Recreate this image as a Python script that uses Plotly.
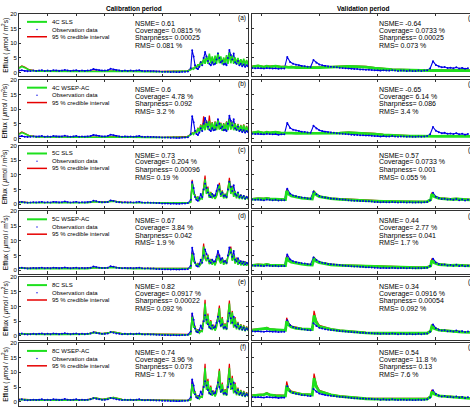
import plotly.graph_objects as go

W, H = 470, 408
FONT = "Liberation Sans, Arial, sans-serif"
GREEN, BLUE, RED = "#1ee01e", "#0000e6", "#e60000"

# ---------------- time axes (sample times) ----------------
t_obs_cal = [round(0.1 * i, 2) for i in range(61)] + [round(6.05 + 0.05 * i, 2) for i in range(40)]
t_mod_cal = [0.0, 0.1, 0.2, 0.35, 0.6, 1.0, 1.5, 2.0, 2.4, 2.65, 2.9, 3.3, 3.6, 4.0, 4.5, 5.0, 5.5] + \
            [round(5.8 + 0.05 * i, 2) for i in range(45)]
t_obs_val = [round(0.85 + 0.05 * i, 2) for i in range(75)]
t_mod_val = [0.85, 0.95, 1.05, 1.10, 1.15, 1.25, 1.35, 1.42, 1.44, 1.47, 1.52, 1.60, 1.70, 1.80, 1.88,
             1.91, 1.95, 2.00, 2.10, 2.20, 2.35, 2.50, 2.65, 2.80, 2.95, 3.10, 3.25, 3.40, 3.55, 3.70,
             3.85, 3.91, 3.93, 3.97, 4.05, 4.15, 4.25, 4.35, 4.45, 4.585]

# ---------------- observations ----------------
obs_cal = [0.7, 0.8, 0.6, 0.5, 0.6, 0.7, 0.6, 0.7, 0.8, 0.6,
           0.7, 0.6, 0.8, 0.7, 0.6, 0.7, 0.9, 0.7, 0.6, 0.7,
           0.8, 0.6, 0.7, 0.6, 0.7, 0.8, 1.2, 1.0, 0.8, 0.7,
           0.7, 0.8, 1.3, 1.1, 0.8, 0.7, 0.6, 0.7, 0.6, 0.7,
           0.6, 0.7, 0.8, 0.6, 0.5, 0.6, 0.5, 0.5, 0.4, 0.4,
           0.3, 0.3, 0.3, 0.2, 0.3, 0.2, 0.2, 0.3, 0.3, 0.4,
           1.5,
           7.6, 5.5, 2.5, 1.5, 1.2, 2.0, 3.5, 2.5, 5.0, 7.0,
           5.5, 4.0, 3.0, 2.5, 3.5, 2.8, 3.0, 4.5, 6.5, 5.0,
           3.5, 4.0, 2.8, 3.0, 2.5, 5.0, 7.7, 6.0, 4.5, 6.5,
           3.5, 3.0, 4.0, 2.5, 3.0, 2.2, 2.8, 2.0, 2.5, 2.2]
obs_val = [1.6, 1.5, 1.6, 1.5, 1.4, 1.6, 1.5, 1.4, 1.5, 1.3, 1.4, 1.4,
           5.3, 3.6, 3.0, 2.7, 2.5, 2.3, 2.2, 2.0, 1.9,
           4.3, 3.4, 2.8, 2.5, 2.3, 2.1, 2.0, 1.9, 1.8, 1.7, 1.6, 1.5, 1.4,
           1.3, 1.2, 1.2, 1.1, 1.1, 1.0, 1.0, 0.9, 0.8, 0.8, 0.7, 0.8, 0.7, 0.7, 0.8, 0.7,
           0.6, 0.7, 0.7, 0.6, 0.7, 0.6, 0.6, 0.7, 0.6, 0.7, 0.8,
           1.4, 3.9, 2.6, 2.1, 1.8, 1.9, 1.6, 1.7, 1.5, 1.8, 1.4, 1.6, 1.3, 1.5]

# ---------------- models: calibration mean / 95% upper bound ----------------
cal_mean_4c_sls = [1.5, 2.1, 1.7, 0.9, 0.5, 0.4, 0.4, 0.4, 0.4, 0.5, 0.4, 0.5, 0.4, 0.4, 0.3, 0.3, 0.3,
                   0.4, 0.5, 0.6, 0.8, 1.0,
                   1.5, 1.2, 2.0, 1.6, 2.8, 2.0, 3.8, 2.5, 4.8, 3.0,
                   5.5, 3.0, 6.5, 3.2, 5.5, 2.8, 5.8, 3.0, 6.8, 3.2,
                   5.5, 2.8, 5.2, 2.8, 6.0, 3.0, 6.8, 3.2, 5.8, 3.0,
                   5.2, 2.8, 5.0, 2.6, 4.6, 2.5, 4.8, 2.4, 4.3, 2.5]
cal_ci_4c_sls = [1.7, 2.3, 1.9, 1.0, 0.6, 0.5, 0.5, 0.5, 0.5, 0.6, 0.5, 0.6, 0.5, 0.5, 0.4, 0.4, 0.4,
                 0.5, 0.6, 0.7, 0.9, 1.1,
                 1.4, 1.5, 1.9, 2.0, 2.7, 2.6, 3.6, 3.2, 4.4, 3.8,
                 5.0, 4.2, 5.8, 4.2, 5.0, 4.0, 5.2, 4.0, 6.0, 4.2,
                 5.0, 3.8, 4.8, 3.8, 5.4, 4.0, 6.0, 4.2, 5.2, 4.0,
                 4.8, 3.8, 4.6, 3.6, 4.2, 3.4, 4.4, 3.3, 4.0, 3.3]
cal_mean_4c_wsep = [1.4, 2.0, 1.6, 0.9, 0.5, 0.4, 0.4, 0.4, 0.4, 0.5, 0.4, 0.5, 0.4, 0.4, 0.3, 0.3, 0.3,
                    0.4, 0.5, 0.7, 0.9, 1.2,
                    1.8, 1.4, 2.6, 1.8, 3.5, 2.2, 4.5, 2.6, 5.2, 2.8,
                    5.8, 3.0, 6.0, 3.0, 5.4, 2.6, 5.6, 2.8, 6.2, 3.0,
                    5.2, 2.6, 5.0, 2.6, 5.6, 2.8, 6.4, 3.0, 5.5, 2.8,
                    5.0, 2.6, 4.8, 2.5, 4.4, 2.4, 4.6, 2.3, 4.1, 2.4]
cal_ci_4c_wsep = [1.6, 2.2, 1.8, 1.0, 0.6, 0.5, 0.5, 0.5, 0.5, 0.6, 0.5, 0.6, 0.5, 0.5, 0.4, 0.4, 0.4,
                  0.5, 0.6, 0.8, 1.0, 1.3,
                  1.9, 1.6, 2.7, 2.0, 3.7, 2.4, 4.8, 2.8, 7.5, 3.0,
                  6.2, 3.2, 7.8, 3.2, 5.6, 2.8, 5.8, 3.0, 6.4, 3.2,
                  5.4, 2.8, 5.2, 2.8, 5.8, 3.0, 6.6, 3.2, 5.7, 3.0,
                  5.2, 2.8, 5.0, 2.7, 4.6, 2.6, 4.8, 2.5, 4.3, 2.6]
cal_mean_5c_sls = [0.6, 0.7, 0.6, 0.5, 0.5, 0.5, 0.5, 0.5, 0.5, 0.9, 0.6, 1.0, 0.6, 0.5, 0.5, 0.4, 0.4,
                   0.4, 0.4, 0.4, 0.5, 0.7,
                   7.0, 3.5, 3.0, 1.5, 2.5, 1.4, 2.0, 1.8, 4.5, 8.5,
                   3.5, 5.5, 2.2, 4.0, 2.0, 3.2, 1.8, 2.8, 4.5, 6.5,
                   2.5, 4.5, 2.0, 3.5, 2.0, 5.0, 8.0, 3.5, 6.0, 2.5,
                   4.5, 2.0, 3.8, 1.8, 3.2, 1.7, 3.0, 1.6, 2.6, 1.7]
cal_ci_5c_sls = [0.7, 0.8, 0.7, 0.6, 0.6, 0.6, 0.6, 0.6, 0.6, 1.0, 0.7, 1.1, 0.7, 0.6, 0.6, 0.5, 0.5,
                 0.5, 0.5, 0.5, 0.6, 0.8,
                 8.3, 3.8, 3.2, 1.8, 2.6, 1.6, 2.1, 2.0, 5.5, 9.8,
                 3.8, 6.0, 2.4, 4.2, 2.2, 3.3, 2.0, 2.9, 5.0, 7.3,
                 2.7, 4.7, 2.2, 3.6, 2.2, 5.6, 9.0, 3.7, 6.3, 2.7,
                 4.6, 2.2, 3.9, 2.0, 3.3, 1.9, 3.0, 1.8, 2.6, 1.9]
cal_mean_5c_wsep = [0.6, 0.7, 0.6, 0.5, 0.5, 0.5, 0.5, 0.5, 0.5, 0.8, 0.6, 0.9, 0.6, 0.5, 0.5, 0.4, 0.4,
                    0.4, 0.4, 0.4, 0.5, 0.6,
                    5.5, 3.0, 2.5, 1.4, 2.2, 1.3, 2.0, 3.0, 8.0, 4.0,
                    3.0, 5.0, 2.0, 3.6, 1.8, 3.0, 1.6, 3.0, 5.0, 3.2,
                    2.2, 4.0, 1.8, 3.2, 2.0, 4.5, 5.5, 7.3, 3.2, 5.0,
                    2.2, 4.0, 1.8, 3.4, 1.6, 3.0, 1.5, 2.8, 1.5, 2.4]
cal_ci_5c_wsep = [0.7, 0.8, 0.7, 0.6, 0.6, 0.6, 0.6, 0.6, 0.6, 0.9, 0.7, 1.0, 0.7, 0.6, 0.6, 0.5, 0.5,
                  0.5, 0.5, 0.5, 0.6, 0.7,
                  6.0, 3.2, 2.7, 1.6, 2.3, 1.5, 2.1, 3.3, 9.0, 4.2,
                  3.2, 5.3, 2.2, 3.8, 2.0, 3.1, 1.8, 3.1, 5.5, 3.4,
                  2.4, 4.2, 2.0, 3.4, 2.2, 4.8, 5.9, 8.0, 3.4, 5.2,
                  2.4, 4.2, 2.0, 3.5, 1.8, 3.1, 1.7, 2.9, 1.7, 2.5]
cal_mean_8c_sls = [0.7, 0.8, 0.7, 0.6, 0.5, 0.5, 0.5, 0.5, 0.6, 1.2, 0.7, 1.3, 0.7, 0.6, 0.5, 0.4, 0.4,
                   0.4, 0.4, 0.4, 0.5, 0.6,
                   6.5, 3.0, 3.0, 1.2, 2.0, 1.0, 1.6, 1.5, 5.0, 11.0,
                   4.0, 7.0, 2.5, 5.0, 2.0, 3.5, 1.8, 3.0, 6.0, 9.5,
                   3.0, 6.0, 2.2, 4.0, 2.0, 6.0, 11.0, 4.0, 8.0, 2.8,
                   6.0, 2.2, 4.5, 2.0, 3.8, 1.8, 3.5, 1.6, 3.0, 1.8]
cal_ci_8c_sls = [0.8, 0.9, 0.8, 0.7, 0.6, 0.6, 0.6, 0.6, 0.7, 1.3, 0.8, 1.4, 0.8, 0.7, 0.6, 0.5, 0.5,
                 0.5, 0.5, 0.5, 0.6, 0.7,
                 7.5, 3.3, 3.3, 1.4, 2.2, 1.2, 1.8, 1.8, 6.0, 12.3,
                 4.5, 7.6, 2.8, 5.4, 2.2, 3.8, 2.0, 3.3, 6.8, 10.3,
                 3.3, 6.4, 2.4, 4.3, 2.2, 6.8, 12.0, 4.4, 8.5, 3.0,
                 6.4, 2.4, 4.8, 2.2, 4.0, 2.0, 3.7, 1.8, 3.2, 2.0]
cal_mean_8c_wsep = [0.7, 0.8, 0.7, 0.6, 0.5, 0.5, 0.5, 0.5, 0.6, 1.3, 0.7, 1.4, 0.7, 0.6, 0.5, 0.4, 0.4,
                    0.4, 0.4, 0.4, 0.5, 0.6,
                    6.0, 3.0, 3.2, 1.2, 2.0, 1.0, 1.6, 1.5, 5.0, 11.5,
                    4.0, 7.0, 2.5, 5.0, 2.0, 3.5, 1.8, 3.0, 6.0, 10.5,
                    3.0, 6.0, 2.2, 4.0, 2.0, 6.0, 11.5, 4.0, 8.0, 2.8,
                    6.0, 2.2, 4.5, 2.0, 3.8, 1.8, 3.5, 1.6, 3.0, 1.8]
cal_ci_8c_wsep = [0.8, 0.9, 0.8, 0.7, 0.6, 0.6, 0.6, 0.6, 0.7, 1.4, 0.8, 1.5, 0.8, 0.7, 0.6, 0.5, 0.5,
                  0.5, 0.5, 0.5, 0.6, 0.7,
                  7.5, 3.4, 3.5, 1.4, 2.2, 1.2, 1.8, 1.8, 6.2, 12.9,
                  4.5, 7.8, 2.8, 5.5, 2.2, 3.8, 2.0, 3.3, 7.0, 11.2,
                  3.3, 6.5, 2.4, 4.3, 2.2, 7.0, 12.9, 4.5, 8.8, 3.0,
                  6.5, 2.4, 4.8, 2.2, 4.0, 2.0, 3.7, 1.8, 3.2, 2.0]

# ---------------- models: validation mean / 95% upper bound ----------------
val_mean_4c_sls = [2.0, 2.3, 1.9, 2.2, 2.0, 2.2, 1.9, 2.0, 1.9, 1.8, 1.9, 1.7, 1.8, 1.7, 1.7, 1.6, 1.7, 1.7, 1.8, 1.7,
                   1.9, 2.1, 2.0, 1.9, 1.5, 1.2, 1.0, 0.9, 0.8, 0.8, 0.7, 0.7, 0.7, 0.8, 0.7, 0.8, 0.7, 0.8, 0.7, 0.7]
val_ci_4c_sls = [2.2, 2.5, 2.1, 2.4, 2.2, 2.4, 2.1, 2.2, 2.1, 2.0, 2.1, 1.9, 2.0, 1.9, 1.9, 1.8, 1.9, 1.9, 2.0, 1.9,
                 2.1, 2.3, 2.2, 2.1, 1.7, 1.4, 1.2, 1.1, 1.0, 1.0, 0.9, 0.9, 0.9, 1.0, 0.9, 1.0, 0.9, 1.0, 0.9, 0.9]
val_mean_4c_wsep = [1.9, 2.2, 1.8, 2.1, 1.9, 2.1, 1.8, 1.9, 1.9, 1.8, 1.8, 1.7, 1.7, 1.6, 1.6, 1.6, 1.7, 1.7, 1.7, 1.7,
                    1.8, 2.0, 1.9, 1.8, 1.5, 1.2, 1.0, 0.9, 0.8, 0.8, 0.7, 0.7, 0.8, 0.8, 0.7, 0.8, 0.7, 0.7, 0.7, 0.7]
val_ci_4c_wsep = [2.1, 2.4, 2.0, 2.3, 2.1, 2.3, 2.0, 2.1, 2.1, 2.0, 2.0, 1.9, 1.9, 1.8, 1.8, 1.8, 1.9, 1.9, 1.9, 1.9,
                  2.0, 2.2, 2.1, 2.0, 1.7, 1.4, 1.2, 1.1, 1.0, 1.0, 0.9, 0.9, 1.0, 1.0, 0.9, 1.0, 0.9, 0.9, 0.9, 0.9]
val_mean_5c_sls = [1.7, 1.9, 1.8, 2.0, 1.8, 1.7, 1.6, 1.6, 4.5, 3.5, 2.8, 2.4, 2.1, 1.9, 1.8, 4.0, 3.2, 2.6, 2.2, 1.9,
                   1.7, 1.5, 1.4, 1.3, 1.1, 1.0, 0.9, 0.9, 0.8, 0.8, 0.9, 1.5, 3.5, 2.6, 2.0, 1.8, 1.7, 1.8, 1.6, 1.5]
val_ci_5c_sls = [1.9, 2.1, 2.0, 2.2, 2.0, 1.9, 1.8, 1.8, 5.1, 3.8, 3.0, 2.6, 2.3, 2.1, 2.0, 4.6, 3.5, 2.8, 2.4, 2.1,
                 1.9, 1.7, 1.6, 1.5, 1.3, 1.2, 1.1, 1.1, 1.0, 1.0, 1.1, 1.7, 4.0, 2.8, 2.2, 2.0, 1.9, 2.0, 1.8, 1.7]
val_mean_5c_wsep = [1.6, 1.8, 1.7, 1.9, 1.7, 1.6, 1.5, 1.5, 4.2, 3.3, 2.7, 2.3, 2.0, 1.8, 1.7, 3.8, 3.0, 2.5, 2.1, 1.8,
                    1.6, 1.5, 1.4, 1.3, 1.1, 1.0, 0.9, 0.9, 0.8, 0.8, 0.9, 1.4, 3.3, 2.5, 1.9, 1.7, 1.6, 1.7, 1.5, 1.4]
val_ci_5c_wsep = [1.8, 2.0, 1.9, 2.1, 1.9, 1.8, 1.7, 1.7, 4.9, 3.7, 2.9, 2.5, 2.2, 2.0, 1.9, 4.4, 3.3, 2.7, 2.3, 2.0,
                  1.8, 1.7, 1.6, 1.5, 1.3, 1.2, 1.1, 1.1, 1.0, 1.0, 1.1, 1.6, 3.9, 2.7, 2.1, 1.9, 1.8, 1.9, 1.7, 1.6]
val_mean_8c_sls = [2.0, 2.2, 2.3, 2.6, 2.2, 2.0, 1.9, 1.9, 5.0, 3.8, 3.0, 2.6, 2.4, 2.3, 2.2, 7.0, 4.5, 3.2, 2.6, 2.2,
                   1.8, 1.5, 1.2, 1.0, 0.9, 0.9, 0.8, 0.8, 0.8, 0.8, 0.9, 1.6, 3.2, 2.5, 2.0, 1.8, 1.6, 1.5, 1.3, 1.2]
val_ci_8c_sls = [2.2, 2.4, 2.5, 2.9, 2.4, 2.2, 2.1, 2.1, 6.2, 4.4, 3.3, 2.9, 2.6, 2.5, 2.4, 8.5, 5.2, 3.6, 2.9, 2.4,
                 2.0, 1.7, 1.4, 1.2, 1.1, 1.1, 1.0, 1.0, 1.0, 1.0, 1.1, 1.9, 3.8, 2.8, 2.2, 2.0, 1.8, 1.7, 1.5, 1.4]
val_mean_8c_wsep = [2.1, 2.3, 2.4, 2.8, 2.3, 2.1, 2.0, 2.0, 5.5, 4.0, 3.2, 2.8, 2.5, 2.4, 2.3, 8.0, 5.0, 3.5, 2.8, 2.3,
                    1.8, 1.5, 1.2, 1.0, 0.9, 0.9, 0.8, 0.8, 0.8, 0.8, 0.9, 1.7, 3.4, 2.6, 2.0, 1.8, 1.6, 1.5, 1.3, 1.1]
val_ci_8c_wsep = [2.3, 2.5, 2.6, 3.1, 2.5, 2.3, 2.2, 2.2, 6.9, 4.6, 3.6, 3.1, 2.7, 2.6, 2.5, 9.6, 5.8, 3.9, 3.1, 2.5,
                  2.0, 1.7, 1.4, 1.2, 1.1, 1.1, 1.0, 1.0, 1.0, 1.0, 1.1, 2.0, 4.0, 2.9, 2.2, 2.0, 1.8, 1.7, 1.5, 1.3]

model_names = ["4C SLS", "4C WSEP-AC", "5C SLS", "5C WSEP-AC", "8C SLS", "8C WSEP-AC"]
cal_means = [cal_mean_4c_sls, cal_mean_4c_wsep, cal_mean_5c_sls, cal_mean_5c_wsep, cal_mean_8c_sls, cal_mean_8c_wsep]
cal_cis = [cal_ci_4c_sls, cal_ci_4c_wsep, cal_ci_5c_sls, cal_ci_5c_wsep, cal_ci_8c_sls, cal_ci_8c_wsep]
val_means = [val_mean_4c_sls, val_mean_4c_wsep, val_mean_5c_sls, val_mean_5c_wsep, val_mean_8c_sls, val_mean_8c_wsep]
val_cis = [val_ci_4c_sls, val_ci_4c_wsep, val_ci_5c_sls, val_ci_5c_wsep, val_ci_8c_sls, val_ci_8c_wsep]

cal_stats = [("0.61", "0.0815 %", "0.00025", "0.081 %"),
             ("0.6", "4.78 %", "0.092", "3.2 %"),
             ("0.73", "0.204 %", "0.00096", "0.19 %"),
             ("0.67", "3.84 %", "0.042", "1.9 %"),
             ("0.82", "0.0917 %", "0.00022", "0.092 %"),
             ("0.74", "3.96 %", "0.073", "1.7 %")]
val_stats = [("-0.64", "0.0733 %", "0.00025", "0.073 %"),
             ("-0.65", "6.14 %", "0.086", "3.4 %"),
             ("0.57", "0.0733 %", "0.001", "0.055 %"),
             ("0.44", "2.77 %", "0.041", "1.7 %"),
             ("0.34", "0.0916 %", "0.00054", "0.092 %"),
             ("0.54", "11.8 %", "0.13", "7.6 %")]
left_labels = ["(a)", "(b)", "(c)", "(d)", "(e)", "(f)"]
right_labels = ["(g)", "(h)", "(i)", "(j)", "(k)", "(l)"]
y_ticks = [0, 5, 10, 15, 20]


def PX(px):
    return px / W


def PY(py):
    return 1 - py / H


# layout geometry (pixels)
L0, L1 = 19, 248
R0, R1 = 252, 470
row_tops = [11 + 66.3 * k for k in range(6)]
ROW_H = 63

fig = go.Figure()
layout = dict(width=W, height=H, margin=dict(l=0, r=0, t=0, b=0),
              paper_bgcolor="white", plot_bgcolor="white", showlegend=False,
              font=dict(family=FONT, size=7, color="black"))
annotations, shapes = [], []

for k in range(6):
    T = row_tops[k]
    ydom = [PY(T + ROW_H), PY(T)]
    for c in range(2):
        n = 2 * k + c + 1
        xs = "" if n == 1 else str(n)
        if c == 0:
            t_m, mean, ci, t_o, obs = t_mod_cal, cal_means[k], cal_cis[k], t_obs_cal, obs_cal
            xdom, xr, xt = [PX(L0), PX(L1)], [0, 8], list(range(9))
            gw = 1.6
        else:
            t_m, mean, ci, t_o, obs = t_mod_val, val_means[k], val_cis[k], t_obs_val, obs_val
            xdom, xr, xt = [PX(R0), PX(R1)], [0.8456, 4.585], [1, 2, 3, 4]
            gw = 2.8
        ax = dict(xaxis="x" + xs, yaxis="y" + xs, hoverinfo="skip")
        fig.add_trace(go.Scatter(x=t_m, y=ci, mode="lines", line=dict(color=RED, width=1.2), **ax))
        fig.add_trace(go.Scatter(x=t_o, y=obs, mode="lines", line=dict(color=BLUE, width=1.1), **ax))
        fig.add_trace(go.Scatter(x=t_m, y=mean, mode="lines", line=dict(color=GREEN, width=gw), **ax))
        fig.add_trace(go.Scatter(x=t_o, y=obs, mode="markers",
                                 marker=dict(color=BLUE, size=2, line=dict(width=0)), **ax))
        layout["xaxis" + xs] = dict(domain=xdom, range=xr, tickvals=xt, ticks="inside", ticklen=2.5,
                                    tickcolor="#333", tickwidth=0.8, showticklabels=False,
                                    showline=True, linecolor="#333", linewidth=0.8, mirror="ticks",
                                    showgrid=False, zeroline=False, anchor="y" + xs)
        layout["yaxis" + xs] = dict(domain=ydom, range=[-1.3, 20], tickvals=y_ticks, ticks="inside",
                                    ticklen=2.5, tickcolor="#333", tickwidth=0.8,
                                    showticklabels=(c == 0), tickfont=dict(size=6),
                                    showline=True, linecolor="#333", linewidth=0.8,
                                    mirror=("ticks" if c == 0 else False),
                                    showgrid=False, zeroline=False, anchor="x" + xs)
        # statistics text
        stats = cal_stats[k] if c == 0 else val_stats[k]
        sx = 133 if c == 0 else 377
        labels = ["NSME= " + stats[0], "Coverage= " + stats[1], "Sharpness= " + stats[2], "RMS= " + stats[3]]
        for j, txt in enumerate(labels):
            annotations.append(dict(x=PX(sx), y=PY(T + 9.7 + 7.33 * j), xref="paper", yref="paper",
                                    text=txt, showarrow=False, xanchor="left", yanchor="middle",
                                    font=dict(size=7)))
        # panel label
        if c == 0:
            annotations.append(dict(x=PX(248), y=PY(T + 4.5), xref="paper", yref="paper",
                                    text=left_labels[k], showarrow=False, xanchor="right",
                                    yanchor="middle", font=dict(size=6.5)))
        else:
            annotations.append(dict(x=PX(465.5), y=PY(T + 4.5), xref="paper", yref="paper",
                                    text=right_labels[k], showarrow=False, xanchor="left",
                                    yanchor="middle", font=dict(size=6.5)))
    # y-axis title
    annotations.append(dict(x=PX(5.5), y=PY(T + 31.5), xref="paper", yref="paper",
                            text="Efflux ( <i>μ</i>mol / m<sup>2</sup>s)", textangle=-90,
                            showarrow=False, xanchor="center", yanchor="middle", font=dict(size=6.5)))
    # legend (keys + labels)
    leg = [(model_names[k], GREEN, "line", 8), ("Observation data", BLUE, "dot", 15.7),
           ("95 % credible interval", RED, "line", 23)]
    for name, col, kind, dy in leg:
        if kind == "line":
            shapes.append(dict(type="line", xref="paper", yref="paper", x0=PX(27), x1=PX(47),
                               y0=PY(T + dy), y1=PY(T + dy),
                               line=dict(color=col, width=2 if col == GREEN else 1.5)))
        else:
            shapes.append(dict(type="circle", xref="paper", yref="paper", x0=PX(36.3), x1=PX(37.7),
                               y0=PY(T + dy + 0.7), y1=PY(T + dy - 0.7),
                               fillcolor=col, line=dict(color=col, width=0)))
        annotations.append(dict(x=PX(50), y=PY(T + dy), xref="paper", yref="paper", text=name,
                                showarrow=False, xanchor="left", yanchor="middle", font=dict(size=6)))

annotations.append(dict(x=PX(133.5), y=PY(6.5), xref="paper", yref="paper", text="<b>Calibration period</b>",
                        showarrow=False, xanchor="center", yanchor="middle", font=dict(size=6.5)))
annotations.append(dict(x=PX(363), y=PY(6.5), xref="paper", yref="paper", text="<b>Validation period</b>",
                        showarrow=False, xanchor="center", yanchor="middle", font=dict(size=6.5)))

layout["annotations"] = annotations
layout["shapes"] = shapes
fig.update_layout(**layout)
fig.write_html("out.html")
